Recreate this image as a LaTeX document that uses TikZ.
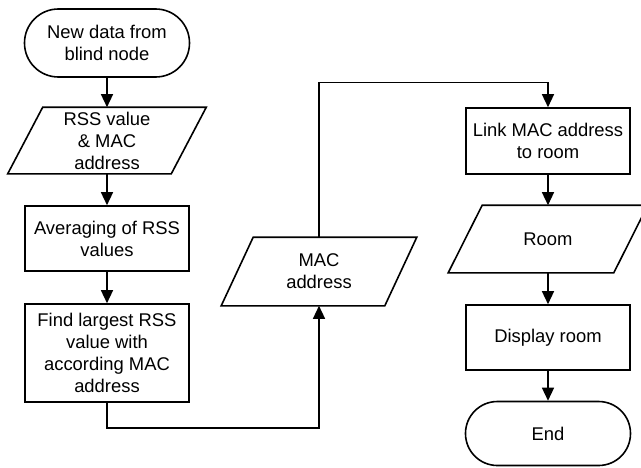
\documentclass[tikz,border=0pt]{standalone}
\usepackage{fontspec}
\setmainfont{Liberation Sans}
\usetikzlibrary{arrows.meta}
\tikzset{
  base/.style={line width=1.6pt, align=center, inner sep=0pt, font=\fontsize{18.4}{22}\selectfont},
  proc/.style={base, draw, minimum width=164pt},
  term/.style={base, draw, minimum width=165pt},
  io/.style={base, minimum width=162pt},
  ioline/.style={line width=1.6pt, line join=miter},
  arr/.style={line width=1.4pt, -{Triangle[width=12pt,length=13pt]}},
}
\newcommand\drawio[2]{\draw[ioline] ([xshift=#2]#1.north west) -- ([xshift=#2]#1.north east) -- ([xshift=-#2]#1.south east) -- ([xshift=-#2]#1.south west) -- cycle;}
\begin{document}
\begin{tikzpicture}[x=1pt,y=-1pt]
\useasboundingbox (0,0) rectangle (641,467);
\node[term, minimum height=68pt, rounded corners=33.9pt] (start) at (107,43) {New data from\\blind node};
\node[io, minimum height=65pt] (rss) at (107,140.5) {RSS value\\\& MAC\\address};
\drawio{rss}{17.5pt}
\node[proc, minimum height=65pt] (avg) at (107,238.5) {Averaging of RSS\\values};
\node[proc, minimum height=98pt] (find) at (107,353) {Find largest RSS\\value with\\according MAC\\address};
\node[io, minimum height=67pt] (mac) at (319,271.5) {MAC\\address};
\drawio{mac}{16pt}
\node[proc, minimum height=66pt] (link) at (548,141) {Link MAC address\\to room};
\node[io, minimum height=66pt, minimum width=164pt] (room) at (548,239) {Room};
\drawio{room}{17pt}
\node[proc, minimum height=65pt] (disp) at (548,337.5) {Display room};
\node[term, minimum height=64pt, rounded corners=31.9pt] (end) at (548,433.5) {End};
\draw[arr] (start) -- (rss);
\draw[arr] (rss) -- (avg);
\draw[arr] (avg) -- (find);
\draw[arr] (find.south) -- ++(0,25) -| (mac.south);
\draw[arr] (mac.north) -- ++(0,-155) -| (link.north);
\draw[arr] (link) -- (room);
\draw[arr] (room) -- (disp);
\draw[arr] (disp) -- (end);
\end{tikzpicture}
\end{document}
